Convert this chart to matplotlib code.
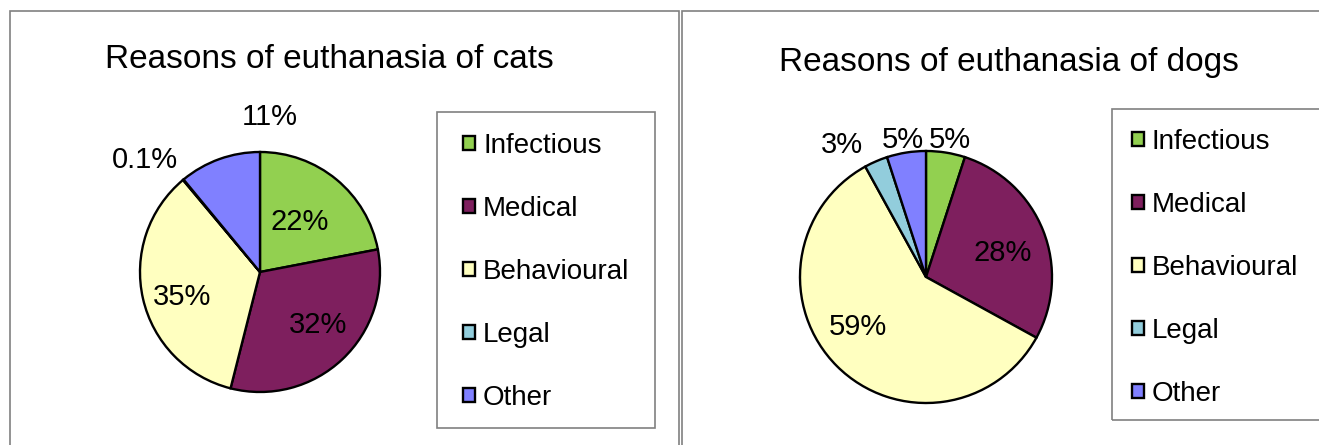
import matplotlib
matplotlib.use('Agg')
import matplotlib.pyplot as plt
import matplotlib.patches as patches

plt.rcParams['font.family'] = ['Liberation Sans', 'DejaVu Sans']

# Data
categories = ['Infectious', 'Medical', 'Behavioural', 'Legal', 'Other']
cat_values = [22, 32, 35, 0.1, 11]
cat_labels = ['22%', '32%', '35%', '0.1%', '11%']
dog_values = [5, 28, 59, 3, 5]
dog_labels = ['5%', '28%', '59%', '3%', '5%']
colors = ['#92D050', '#7E1F5E', '#FFFFC0', '#92CDDC', '#8080FF']

# label spots in pie-radius units (Excel "best fit" placement)
cat_label_pos = [(0.33, 0.42), (0.48, -0.44), (-0.65, -0.21), (-0.96, 0.93), (0.08, 1.29)]
dog_label_pos = [(0.19, 1.09), (0.61, 0.19), (-0.54, -0.40), (-0.67, 1.05), (-0.18, 1.09)]

W, H = 1319, 445
fig = plt.figure(figsize=(W / 100, H / 100), dpi=100)


def fx(px):
    return px / W


def fy(py):
    return 1 - py / H


# panel borders
for x0, x1 in [(10, 679), (682, 1330)]:
    fig.patches.append(patches.Rectangle((fx(x0), fy(460)), fx(x1 - x0), (460 - 11) / H,
                                         transform=fig.transFigure, fill=False,
                                         edgecolor='#808080', linewidth=1.2))


def draw_panel(cx, cy, r, values, labels, label_pos, title, tx, ty, box, leg_xy):
    ax = fig.add_axes([fx(cx - r), fy(cy + r), fx(2 * r), 2 * r / H])
    ax.pie(values, colors=colors, startangle=90, counterclock=False,
           wedgeprops=dict(edgecolor='black', linewidth=1.7), normalize=True)
    ax.set_xlim(-1, 1)
    ax.set_ylim(-1, 1)
    ax.set_aspect('equal')
    ax.axis('off')
    for lab, (x, y) in zip(labels, label_pos):
        ax.text(x, y, lab, ha='center', va='center', fontsize=21, clip_on=False)

    fig.text(fx(tx), fy(ty), title, ha='center', va='center', fontsize=24)

    bx0, by0, bx1, by1 = box
    fig.patches.append(patches.Rectangle((fx(bx0), fy(by1)), fx(bx1 - bx0), (by1 - by0) / H,
                                         transform=fig.transFigure, fill=False,
                                         edgecolor='#808080', linewidth=1.2))
    handles = [patches.Patch(facecolor=c, edgecolor='black', linewidth=1.7) for c in colors]
    fig.legend(handles, categories, loc='upper left',
               bbox_to_anchor=(fx(leg_xy[0]), fy(leg_xy[1])),
               frameon=False, fontsize=20, handlelength=0.42, handleheight=0.42,
               handletextpad=0.3, labelspacing=1.33, borderpad=0, borderaxespad=0)


draw_panel(260, 272, 120, cat_values, cat_labels, cat_label_pos,
           'Reasons of euthanasia of cats', 329, 60,
           (437, 112, 655, 428), (463, 133))
draw_panel(926, 277, 126, dog_values, dog_labels, dog_label_pos,
           'Reasons of euthanasia of dogs', 1009, 62,
           (1112, 109, 1340, 420), (1132, 129))

fig.savefig('out.png', dpi=100)
